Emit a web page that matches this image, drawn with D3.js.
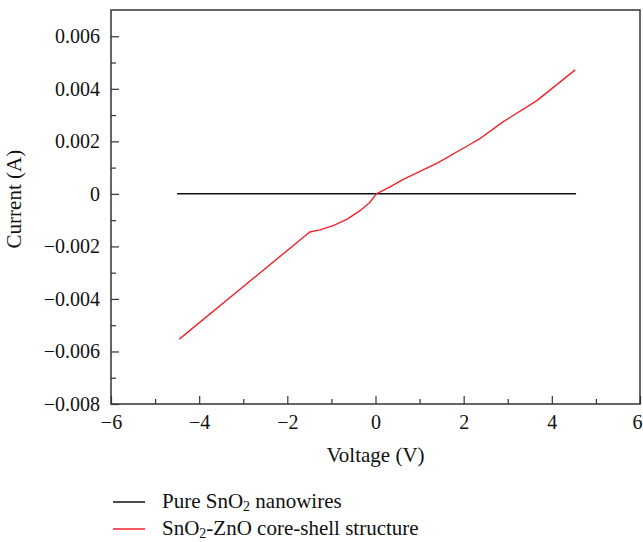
<!DOCTYPE html>
<html>
<head>
<meta charset="utf-8">
<script src="https://cdn.jsdelivr.net/npm/d3@7"></script>
<style>
  body { margin: 0; background: #fff; }
  svg text { font-family: "Liberation Serif", "DejaVu Serif", serif; fill: #111; }
</style>
</head>
<body>
<div id="chart"></div>
<script>
// voltage (V) and current (A)
var pureV = [-4.5, 4.55];
var pureI = [0, 0];

var coreV = [-4.45, -1.49, -1.26, -0.96, -0.65, -0.35, -0.13, 0.02, 0.33, 0.63, 1.39, 2.14, 2.35, 2.9, 3.66, 4.53];
var coreI = [-0.00553, -0.00145, -0.00137, -0.00121, -0.00097, -0.00064, -0.00033, 0, 0.00027, 0.00055, 0.00116, 0.00188, 0.00208, 0.00275, 0.00355, 0.00472];

var xTicks = [-6, -4, -2, 0, 2, 4, 6];
var xMinor = [-5, -3, -1, 1, 3, 5];
var yTicks = [-0.008, -0.006, -0.004, -0.002, 0, 0.002, 0.004, 0.006];
var yMinor = [-0.007, -0.005, -0.003, -0.001, 0.001, 0.003, 0.005];

var seriesNames = ["Pure SnO", "-ZnO core-shell structure"];

var margin = {top: 10, right: 3, bottom: 138, left: 111},
    width = 643 - margin.left - margin.right,
    height = 542 - margin.top - margin.bottom;

var svg = d3.select("#chart")
  .append("svg")
  .attr("width", 643)
  .attr("height", 542)
  .append("g")
  .attr("transform", "translate(" + margin.left + "," + margin.top + ")");

var x = d3.scaleLinear().domain([-6, 6]).range([0, width]);
var y = d3.scaleLinear().domain([-0.008, 0.007]).range([height, 0]);

function fmt(d) {
  if (d === 0) return "0";
  return d3.format(".3f")(d);
}

// x axis, ticks point inward
var gx = svg.append("g")
  .attr("transform", "translate(0," + height + ")")
  .call(d3.axisBottom(x).tickValues(xTicks).tickSize(-8).tickPadding(11).tickFormat(d3.format("d")));
gx.selectAll("text").style("font-size", "20px");
// keep the last label inside the window
gx.selectAll("text").filter(function(d) { return d === 6; }).attr("dx", -3);
svg.append("g")
  .attr("transform", "translate(0," + height + ")")
  .call(d3.axisBottom(x).tickValues(xMinor).tickSize(-5).tickFormat(""));

// y axis
var gy = svg.append("g")
  .call(d3.axisLeft(y).tickValues(yTicks).tickSize(-8).tickPadding(11).tickFormat(fmt));
gy.selectAll("text").style("font-size", "20px");
svg.append("g")
  .call(d3.axisLeft(y).tickValues(yMinor).tickSize(-5).tickFormat(""));

svg.selectAll(".domain").remove();
svg.selectAll(".tick line").attr("stroke", "#333").attr("stroke-width", 1.2);

// frame
svg.append("rect")
  .attr("x", 0).attr("y", 0)
  .attr("width", width).attr("height", height)
  .attr("fill", "none")
  .attr("stroke", "#333")
  .attr("stroke-width", 1.5);

var line = d3.line()
  .x(function(d) { return x(d[0]); })
  .y(function(d) { return y(d[1]); });

var pureData = pureV.map(function(v, i) { return [v, pureI[i]]; });
var coreData = coreV.map(function(v, i) { return [v, coreI[i]]; });

svg.append("path")
  .datum(pureData)
  .attr("fill", "none")
  .attr("stroke", "#111")
  .attr("stroke-width", 1.5)
  .attr("d", line);

svg.append("path")
  .datum(coreData)
  .attr("fill", "none")
  .attr("stroke", "#f0222a")
  .attr("stroke-width", 1.4)
  .attr("stroke-linejoin", "round")
  .attr("d", line);

// axis titles
svg.append("text")
  .attr("x", x(0))
  .attr("y", height + 58)
  .attr("text-anchor", "middle")
  .style("font-size", "21px")
  .text("Voltage (V)");

svg.append("text")
  .attr("transform", "translate(" + (-90) + "," + y(-0.0002) + ") rotate(-90)")
  .attr("text-anchor", "middle")
  .style("font-size", "21px")
  .text("Current (A)");

// legend
var legend = d3.select("svg").append("g");
var legendColors = ["#111", "#f0222a"];
[0, 1].forEach(function(i) {
  var ly = 502 + i * 27;
  legend.append("line")
    .attr("x1", 113).attr("x2", 145)
    .attr("y1", ly).attr("y2", ly)
    .attr("stroke", legendColors[i])
    .attr("stroke-width", 1.5);
  var t = legend.append("text")
    .attr("x", 162)
    .attr("y", ly + 6)
    .style("font-size", "21px");
  if (i === 0) {
    t.append("tspan").text("Pure SnO");
    t.append("tspan").attr("dy", 3).style("font-size", "14px").text("2");
    t.append("tspan").attr("dy", -3).text(" nanowires");
  } else {
    t.append("tspan").text("SnO");
    t.append("tspan").attr("dy", 3).style("font-size", "14px").text("2");
    t.append("tspan").attr("dy", -3).text(seriesNames[1]);
  }
});
</script>
</body>
</html>
